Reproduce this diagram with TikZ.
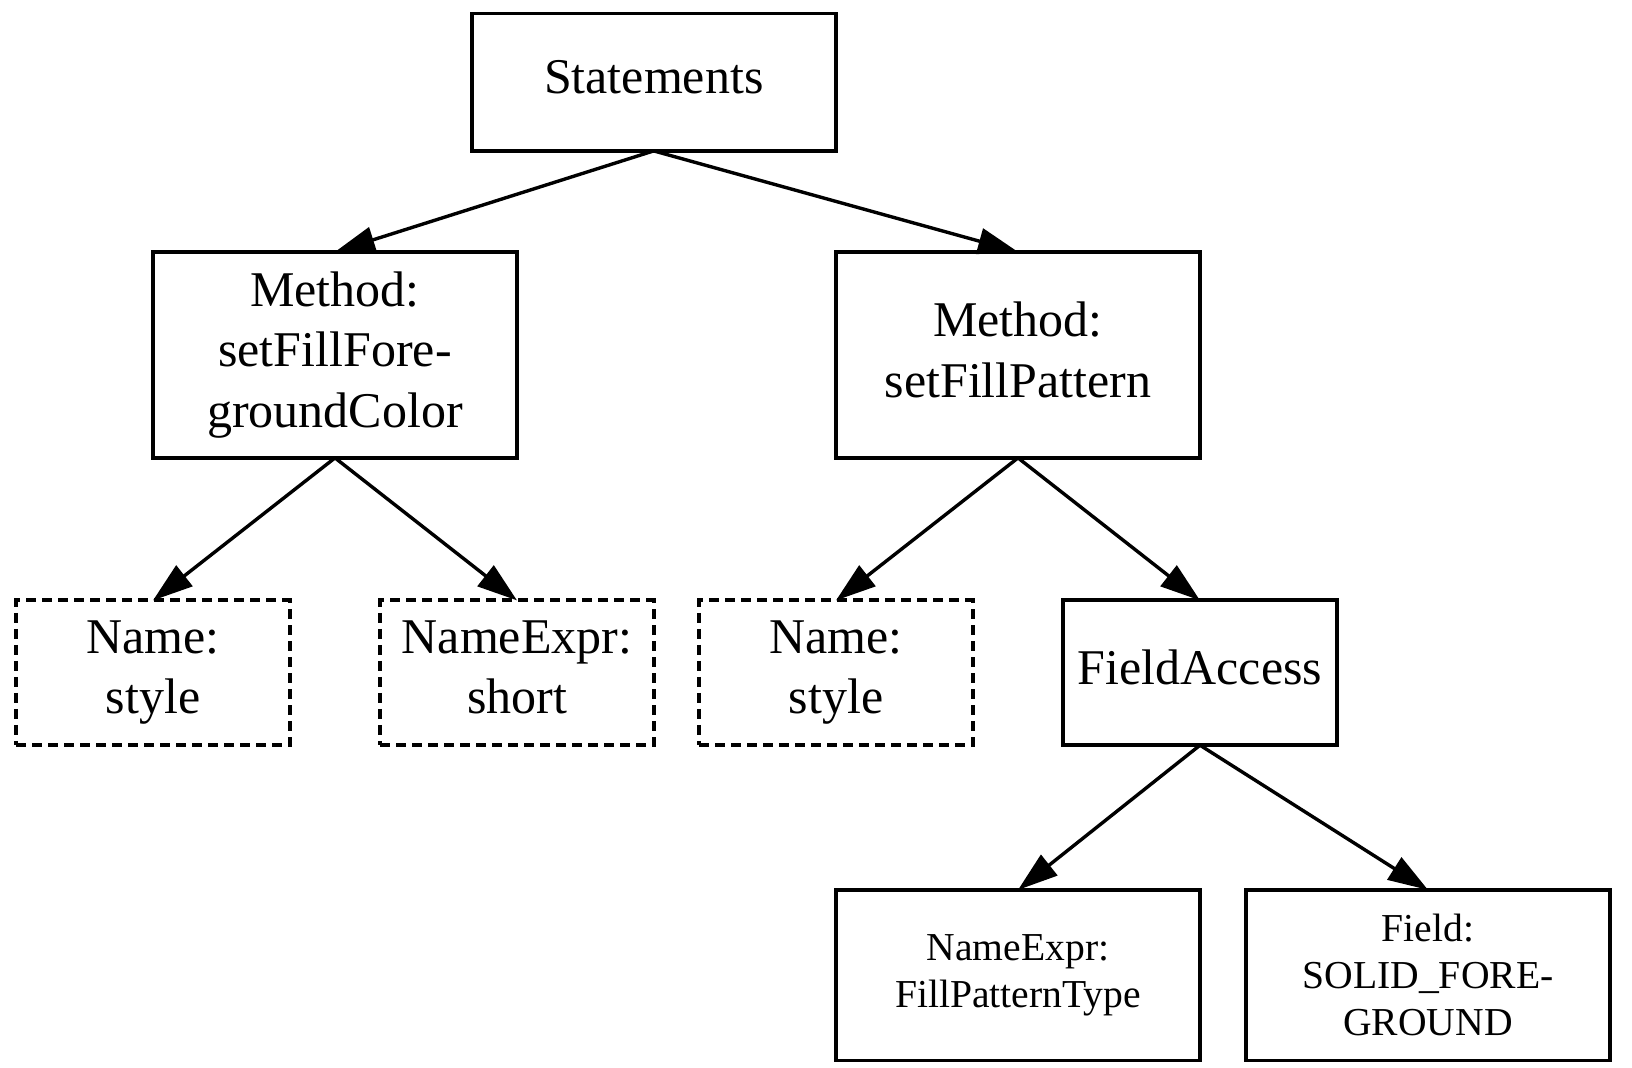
\documentclass[tikz,border=0pt]{standalone}
\usepackage{fontspec}
\setmainfont{Liberation Serif}
\usetikzlibrary{arrows.meta, positioning}

\begin{document}
\begin{tikzpicture}[
    >={Triangle[length=20pt, width=13pt]},
    box/.style ={draw, line width=1.9pt, align=center, inner sep=0pt, outer sep=0pt,
                 text depth=5.4pt, font=\fontsize{25}{30.2}\selectfont},
    root/.style={box, minimum width=182pt, minimum height=68.7pt},
    meth/.style={box, minimum width=182pt, minimum height=103pt},
    acc/.style ={box, minimum width=136.7pt, minimum height=72.4pt},
    attr/.style={acc, dash pattern=on 5pt off 3pt},
    leaf/.style={box, minimum width=182.3pt, minimum height=85.3pt, text depth=,
                 font=\fontsize{19.8}{23.5}\selectfont},
    flow/.style={->, line width=1.7pt},
]
\useasboundingbox (0,0) rectangle (816pt,-534pt);
% root
\node[root] (st) at (326.85pt,-41.1pt) {Statements};
% the two method calls
\node[meth, below=50.5pt of st, xshift=-159.35pt] (ml)
     {Method:\\setFillFore-\\groundColor};
\node[meth, below=50.5pt of st, xshift=182.15pt] (mr)
     {Method:\\setFillPattern};
% arguments, hung under the corners of their method
\node[attr, below=71.25pt of ml.south west] (nl) {Name:\\style};
\node[attr, below=71.25pt of ml.south east] (ne) {NameExpr:\\short};
\node[attr, below=71.25pt of mr.south west] (nr) {Name:\\style};
\node[acc, below=71.25pt of mr.south east] (fa) {FieldAccess};
% field access parts
\node[leaf, below=72.35pt of fa, xshift=-91pt] (fe)
     {NameExpr:\\FillPatternType};
\node[leaf, below=72.35pt of fa, xshift=114pt] (fd)
     {Field:\\SOLID\_FORE-\\GROUND};
\draw[flow] (st.south) -- (ml.north);
\draw[flow] (st.south) -- (mr.north);
\draw[flow] (ml.south) -- (nl.north);
\draw[flow] (ml.south) -- (ne.north);
\draw[flow] (mr.south) -- (nr.north);
\draw[flow] (mr.south) -- (fa.north);
\draw[flow] (fa.south) -- (fe.north);
\draw[flow] (fa.south) -- (fd.north);
\end{tikzpicture}
\end{document}
